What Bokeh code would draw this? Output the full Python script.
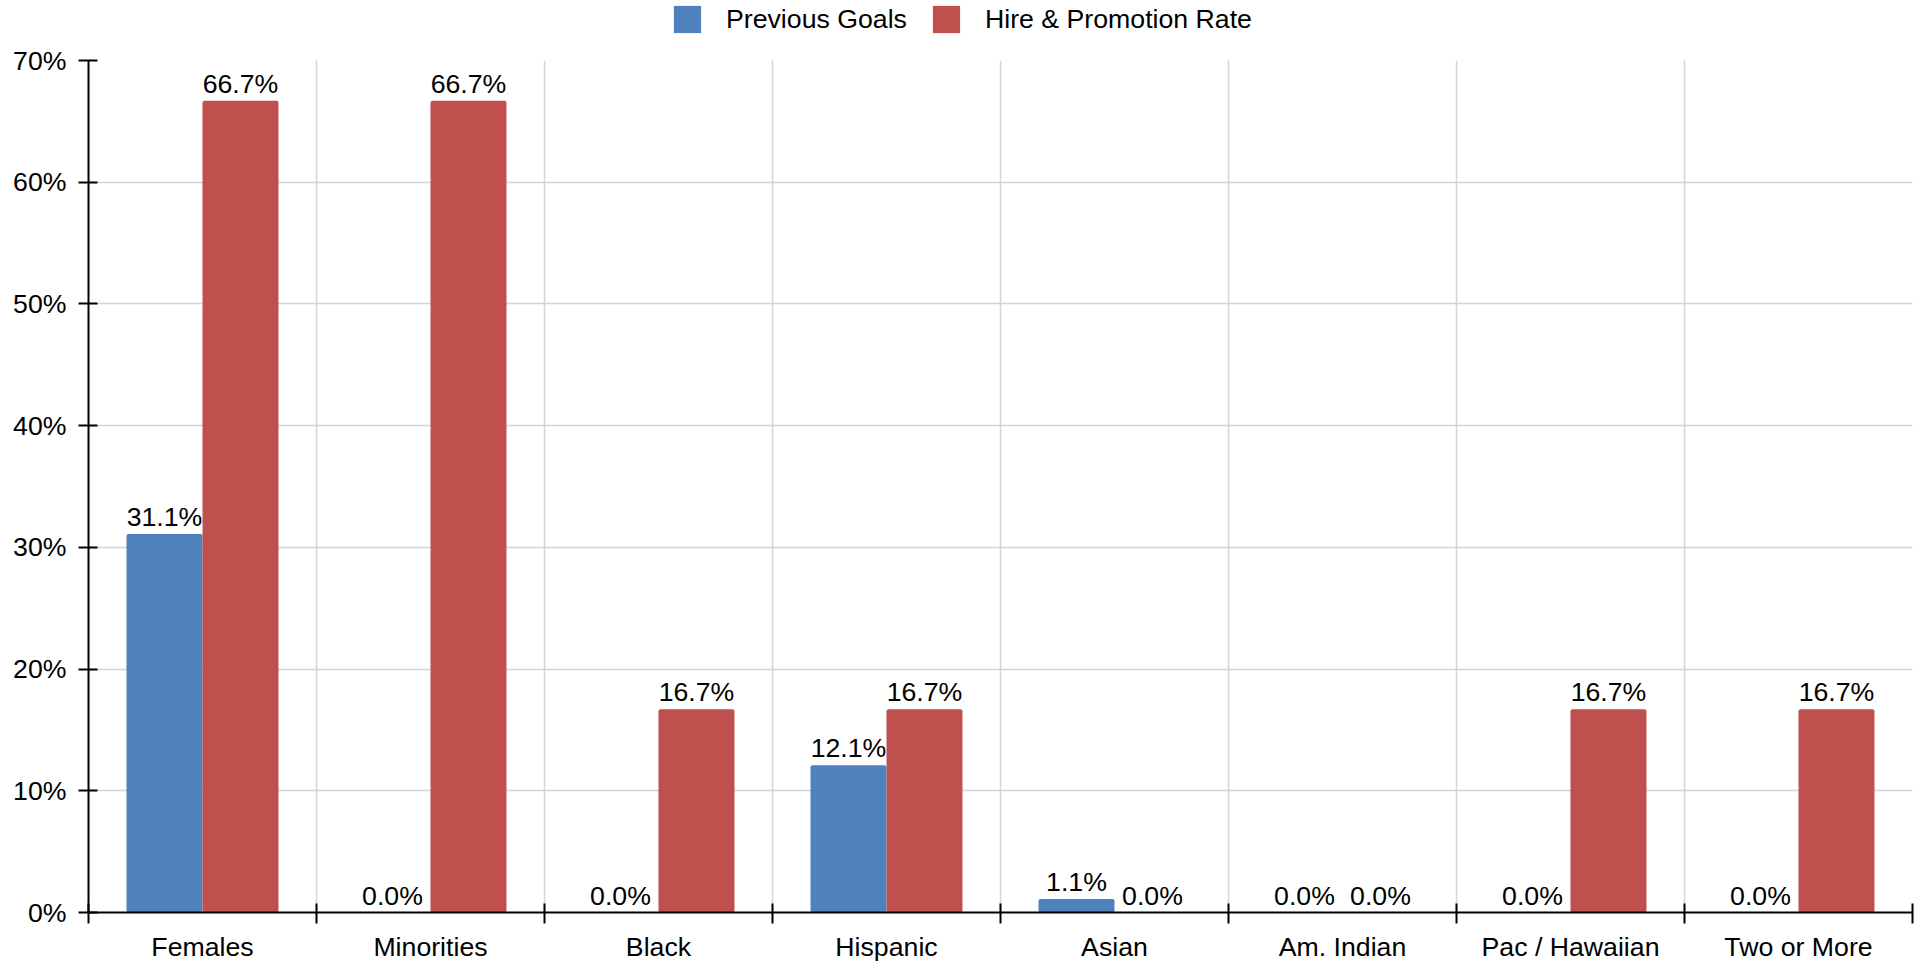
from bokeh.plotting import figure
from bokeh.layouts import column
from bokeh.models import (Range1d, FixedTicker, ColumnDataSource, Legend, LegendItem)
from bokeh.transform import dodge
from bokeh.core.properties import value
from bokeh.embed import file_html
from bokeh.resources import INLINE

categories = ["Females", "Minorities", "Black", "Hispanic", "Asian",
              "Am. Indian", "Pac / Hawaiian", "Two or More"]
previous_goals = [31.1, 0.0, 0.0, 12.1, 1.1, 0.0, 0.0, 0.0]
hire_promotion = [66.7, 66.7, 16.7, 16.7, 0.0, 0.0, 16.7, 16.7]
y_ticks = [0, 10, 20, 30, 40, 50, 60, 70]
series_names = ["Previous Goals", "Hire & Promotion Rate"]
colors = ["#4F81BD", "#C0504D"]

FONT = "Liberation Sans"
FS = "26.7px"

n = len(categories)
centers = [i + 0.5 for i in range(n)]
src = ColumnDataSource(dict(
    x=centers,
    prev=previous_goals,
    hire=hire_promotion,
    prev_lbl=["{:.1f}%".format(v) for v in previous_goals],
    hire_lbl=["{:.1f}%".format(v) for v in hire_promotion],
))

p = figure(frame_width=1824, frame_height=852,
           x_range=Range1d(0, n), y_range=Range1d(0, 70),
           output_backend="svg", toolbar_location=None,
           min_border_left=88, min_border_top=20, min_border_right=7,
           min_border_bottom=53)
p.outline_line_color = None
p.background_fill_color = "white"

bw = 1.0 / 3
r1 = p.vbar(x=dodge("x", -bw / 2, range=p.x_range), top="prev", width=bw,
            source=src, fill_color=colors[0], line_color=None, border_radius=2)
r2 = p.vbar(x=dodge("x", bw / 2, range=p.x_range), top="hire", width=bw,
            source=src, fill_color=colors[1], line_color=None, border_radius=2)

for col, lbl, off in (("prev", "prev_lbl", -bw / 2), ("hire", "hire_lbl", bw / 2)):
    p.text(x=dodge("x", off, range=p.x_range), y=col, text=lbl, source=src,
           text_align="center", text_baseline="bottom", y_offset=-2,
           text_font=value(FONT), text_font_size=FS, text_color="black")

# x axis
xa = p.xaxis[0]
xa.ticker = FixedTicker(ticks=centers, minor_ticks=list(range(n + 1)))
xa.major_label_overrides = {c: categories[i] for i, c in enumerate(centers)}
xa.major_tick_in = 0
xa.major_tick_out = 0
xa.minor_tick_in = 9
xa.minor_tick_out = 11
xa.minor_tick_line_color = "black"
xa.minor_tick_line_width = 2
xa.axis_line_color = "black"
xa.axis_line_width = 2
xa.major_label_text_font = FONT
xa.major_label_text_font_size = FS
xa.major_label_text_color = "black"
xa.major_label_standoff = 8

# y axis
ya = p.yaxis[0]
ya.ticker = FixedTicker(ticks=y_ticks, minor_ticks=[])
ya.major_label_overrides = {t: "{}%".format(t) for t in y_ticks}
ya.major_tick_in = 9
ya.major_tick_out = 10
ya.major_tick_line_color = "black"
ya.major_tick_line_width = 2
ya.axis_line_color = "black"
ya.axis_line_width = 2
ya.major_label_text_font = FONT
ya.major_label_text_font_size = FS
ya.major_label_text_color = "black"
ya.major_label_standoff = 12

p.xgrid[0].ticker = FixedTicker(ticks=list(range(1, n + 1)))
p.ygrid[0].ticker = FixedTicker(ticks=y_ticks)
for g in (p.xgrid[0], p.ygrid[0]):
    g.grid_line_color = "#d4d4d4"
    g.grid_line_width = 1.5

# legend strip above the chart (its frame is aligned with the chart's frame)
lg = figure(frame_width=1824, frame_height=40, x_range=Range1d(0, n), y_range=Range1d(0, 70),
            x_axis_type=None, y_axis_type=None, output_backend="svg",
            toolbar_location=None, min_border_left=88, min_border_right=7,
            min_border_top=0, min_border_bottom=0)
lg.outline_line_color = None
lg.xgrid.visible = False
lg.ygrid.visible = False
k1 = lg.vbar(x="x", top="prev", width=bw, source=src, fill_color=colors[0],
             line_color=None, visible=False)
k2 = lg.vbar(x="x", top="hire", width=bw, source=src, fill_color=colors[1],
             line_color=None, visible=False)

legend = Legend(items=[LegendItem(label=series_names[0], renderers=[k1]),
                       LegendItem(label=series_names[1], renderers=[k2])],
                orientation="horizontal", location=(582, 4),
                glyph_width=34, glyph_height=34, label_height=34,
                label_standoff=22, spacing=22, padding=0, margin=0,
                border_line_color=None, background_fill_alpha=0,
                inactive_fill_alpha=0,
                label_text_font=FONT, label_text_font_size=FS,
                label_text_color="black")
lg.add_layout(legend, "center")

layout = column(lg, p, spacing=0)
open("out.html", "w").write(file_html(layout, INLINE))
